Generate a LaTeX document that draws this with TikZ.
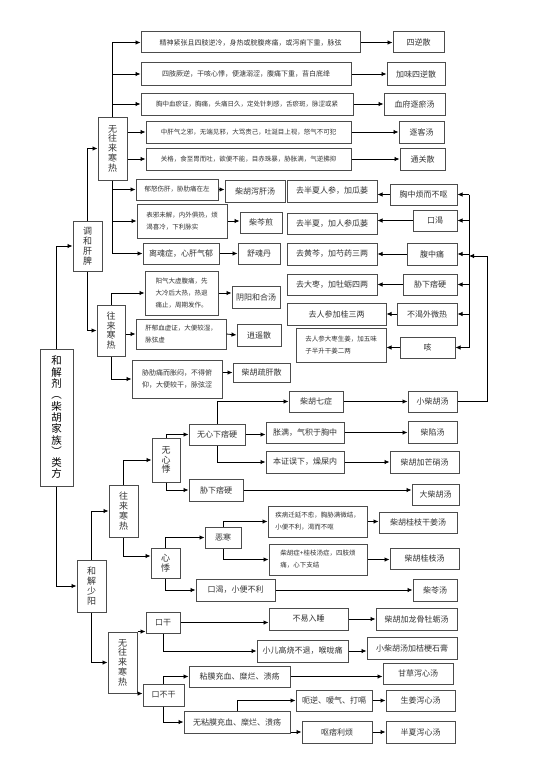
\documentclass[tikz,border=0pt]{standalone}
\usepackage{fontspec}
\setmainfont{Noto Sans CJK SC}
\usetikzlibrary{arrows.meta}
\tikzset{
  bx/.style={draw=black!70, line width=1pt, fill=white, inner sep=1pt, text=black!80, align=center},
  ar/.style={-{Latex[length=5pt,width=4.5pt]}, line width=0.8pt},
  fs/.style={font=\fontsize{6.5}{12}\selectfont},
  fa/.style={font=\fontsize{7}{12}\selectfont},
  fb/.style={font=\fontsize{8}{12}\selectfont},
  vt/.style={font=\fontsize{9}{9.8}\selectfont},
  vm/.style={font=\fontsize{10.5}{11.3}\selectfont, text=black},
}
% box from its corners (x1,y1) (x2,y2), in pixels of the page
\newcommand{\bx}[7][]{\node[bx, minimum width={(#5-#3)*1pt}, minimum height={(#6-#4)*1pt}, #1] (#2) at ({(#3+#5)/2},{(#4+#6)/2}) {#7};}

\begin{document}
\begin{tikzpicture}[x=1pt, y=-1pt]
  \useasboundingbox (0,0) rectangle (533,784);
  % ------------------------------------------------------------ root
  \bx[vm]{M}{40}{349}{73}{486}{和\\解\\剂\\︵\\柴\\胡\\家\\族\\︶\\类\\方}
  \bx[vt]{T}{73}{221}{102}{271}{调\\和\\肝\\脾}
  \bx[vt]{H}{77}{560}{106}{612}{和\\解\\少\\阳}
  \draw[ar] (M.north) |- (T.west);
  \draw[ar] (M.south) |- (H.west);
  % ------------------------------------------------------------ 调和肝脾, no alternating chills
  \bx[vt]{A}{98}{117}{127}{180}{无\\往\\来\\寒\\热}
  \bx[fa]{r1}{141}{32}{360}{53}{精神紧张且四肢逆冷，身热或脘腹疼痛，或泻痢下重，脉弦}
  \bx[fa]{r2}{141}{63}{351}{85}{四肢厥逆，干咳心悸，便溏溺涩，腹痛下重，苔白底绛}
  \bx[fs]{r3}{141}{93}{353}{115}{胸中血瘀证，胸痛，头痛日久，定处针刺感，舌瘀斑，脉涩或紧}
  \bx[fs]{r4}{146}{121}{351}{143}{中肝气之邪，无端见邪，大骂责己，吐涎目上视，怒气不可犯}
  \bx[fs]{r5}{146}{148}{351}{170}{关格，食至胃而吐，欲便不能，目赤珠暴，胁胀满，气逆拂抑}
  \bx[fb]{s1}{393}{32}{444}{53}{四逆散}
  \bx[fb]{s2}{387}{63}{445}{85}{加味四逆散}
  \bx[fb]{s3}{384}{93}{445}{115}{血府逐瘀汤}
  \bx[fb]{s4}{399}{121}{444}{143}{逐客汤}
  \bx[fb]{s5}{400}{148}{445}{170}{通关散}
  \bx[fs]{Y1}{136}{179}{218}{200}{郁怒伤肝，胁肋痛在左}
  \bx[fs, align=left]{Y2}{137}{204}{227}{238}{表邪未解，内外俱热，烦\\渴喜冷，下利脉实}
  \bx[fb]{Y3}{143}{243}{219}{264}{离魂症，心肝气郁}
  \bx[fb]{P1}{225}{180}{285}{202}{柴胡泻肝汤}
  \bx[fb]{P2}{240}{212}{282}{233}{柴芩煎}
  \bx[fb]{P3}{238}{243}{280}{264}{舒魂丹}
  \draw[ar] (T.north) |- (A.west);
  \foreach \r in {r1,r2,r3} \draw[ar] (A.north) |- (\r.west);
  \foreach \r in {r4,r5} \draw[ar] (A.east |- \r.west) -- (\r.west);
  \foreach \r/\s in {r1/s1,r2/s2,r3/s3,r4/s4,r5/s5} \draw[ar] (\r.east) -- (\r.east -| \s.west);
  \foreach \r in {Y1,Y2,Y3} \draw[ar] (A.south) |- (\r.west);
  \foreach \r/\s in {Y1/P1,Y2/P2,Y3/P3} \draw[ar] (\r.east) -- (\r.east -| \s.west);
  % ------------------------------------------------------------ 调和肝脾, alternating chills
  \bx[vt]{W1}{97}{305}{125}{356}{往\\来\\寒\\热}
  \bx[fs, align=left]{Y4}{145}{271}{218}{315}{阳气大虚腹痛，先\\大冷后大热，热退\\痛止，周期发作。}
  \bx[fs, align=left]{Y5}{136}{319}{226}{349}{肝郁血虚证，大便较湿，\\脉弦虚}
  \bx[fa, align=left]{Y6}{132}{360}{222}{398}{胁肋痛而胀闷，不得俯\\仰，大便较干，脉弦涩}
  \bx[fb]{P4}{232}{286}{280}{308}{阴阳和合汤}
  \bx[fb]{P5}{237}{324}{281}{346}{逍遥散}
  \bx[fb]{P6}{233}{363}{290}{382}{柴胡疏肝散}
  \draw[ar] (T.south) |- (W1.west);
  \draw[ar] (W1.north) |- (Y4.west);
  \draw[ar] (W1.east |- Y5.west) -- (Y5.west);
  \draw[ar] (W1.south) |- (Y6.west);
  \draw[ar] (Y4.east) -- (Y4.east -| P4.west);
  \draw[ar] (Y5.east) -- (P5.west);
  \draw[ar] (P6.west -| Y6.east) -- (P6.west);
  % ------------------------------------------------------------ 小柴胡汤 changes
  \bx[fb]{M1}{287}{180}{377}{202}{去半夏人参，加瓜蒌}
  \bx[fb]{M2}{287}{213}{377}{234}{去半夏，加人参瓜蒌}
  \bx[fb]{M3}{287}{243}{377}{265}{去黄芩，加芍药三两}
  \bx[fb]{M4}{287}{274}{377}{295}{去大枣，加牡蛎四两}
  \bx[fb]{M5}{287}{303}{386}{325}{去人参加桂三两}
  \bx[fs, align=left]{M6}{296}{328}{386}{362}{去人参大枣生姜，加五味\\子半升干姜二两}
  \bx[fb]{C1}{390}{184}{457}{205}{胸中烦而不呕}
  \bx[fb]{C2}{413}{210}{457}{231}{口渴}
  \bx[fb]{C3}{407}{243}{457}{265}{腹中痛}
  \bx[fb]{C4}{403}{274}{457}{295}{胁下痞硬}
  \bx[fb]{C5}{397}{303}{457}{325}{不渴外微热}
  \bx[fb]{C6}{400}{337}{455}{358}{咳}
  \coordinate (rt) at (469,0);
  \draw[line width=0.8pt] (C1.east -| rt) -- (C6.east -| rt);
  \foreach \c/\m in {C1/M1,C2/M2,C3/M3,C4/M4,C5/M5,C6/M6} {
    \draw[ar] (\c.east -| rt) -- (\c.east);
    \draw[ar] (\c.west) -- (\c.west -| \m.east);
  }
  % ------------------------------------------------------------ 和解少阳, alternating chills
  \bx[vt]{W2}{109}{485}{138}{537}{往\\来\\寒\\热}
  \bx[vt]{WX}{152}{438}{180}{482}{无\\心\\悸}
  \bx[vt]{XJ}{151}{548}{180}{578}{心\\悸}
  \bx[fb]{WN}{189}{424}{245}{445}{无心下痞硬}
  \bx[fb]{XP}{189}{479}{243}{501}{胁下痞硬}
  \bx[fb]{Q7}{289}{391}{343}{412}{柴胡七症}
  \bx[fb]{ZM}{266}{422}{344}{443}{胀满，气积于胸中}
  \bx[fb]{BZ}{266}{451}{344}{473}{本证误下，燥屎内}
  \bx[fb]{XC}{408}{391}{457}{412}{小柴胡汤}
  \bx[fb]{CX}{408}{421}{457}{443}{柴陷汤}
  \bx[fb]{MX}{390}{451}{459}{473}{柴胡加芒硝汤}
  \bx[fb]{DC}{412}{484}{459}{505}{大柴胡汤}
  \bx[fb]{EH}{205}{527}{241}{548}{恶寒}
  \bx[fs, align=left]{JB}{268}{506}{367}{537}{疾病迁延不愈，胸胁满微结，\\小便不利，渴而不呕}
  \bx[fs, align=left]{GZ}{269}{544}{367}{575}{柴胡症+桂枝汤症，四肢烦\\痛，心下支结}
  \bx[fb]{GJ}{379}{512}{457}{533}{柴胡桂枝干姜汤}
  \bx[fb]{GT}{390}{548}{459}{569}{柴胡桂枝汤}
  \bx[fb]{KK}{196}{579}{275}{601}{口渴，小便不利}
  \bx[fb]{CL}{413}{579}{457}{601}{柴苓汤}
  \draw[ar] (H.north) |- (W2.west);
  \draw[ar] (W2.north) |- (WX.west);
  \draw[ar] (W2.south) |- ([yshift=7pt]XJ.west);
  \draw[ar] (WX.north) |- (WN.west);
  \draw[ar] (WX.south) |- (XP.west);
  \draw[ar] (XP.east) -- (XP.east -| DC.west);
  \draw[ar] (WN.north) |- (Q7.west);
  \draw[ar] (WN.east) -- (WN.east -| ZM.west);
  \draw[ar] (WN.south) |- (BZ.west);
  \draw[ar] (Q7.east) -- (XC.west);
  \draw[ar] (ZM.east) -- (ZM.east -| CX.west);
  \draw[ar] (BZ.east) -- (MX.west);
  \coordinate (jn) at (469,256);
  \coordinate (jr) at (487,256);
  \draw[ar] (XC.east) -| (jr) -- (jn);
  \draw[ar] (XJ.north) |- (EH.west);
  \draw[ar] (XJ.south) |- (KK.west);
  \draw[ar] (EH.north) |- (JB.west);
  \draw[ar] (EH.south) |- (GZ.west);
  \draw[ar] (JB.east) -- (JB.east -| GJ.west);
  \draw[ar] (GZ.east) -- (GZ.east -| GT.west);
  \draw[ar] (KK.east) -- (CL.west);
  % ------------------------------------------------------------ 和解少阳, no alternating chills
  \bx[vt]{N2}{108}{632}{137}{693}{无\\往\\来\\寒\\热}
  \bx[fb]{KG}{146}{612}{180}{633}{口干}
  \bx[fb]{KB}{143}{684}{184}{706}{口不干}
  \bx[fb]{BY}{269}{608}{348}{630}{不易入睡}
  \bx[fb]{XE}{257}{640}{348}{662}{小儿高烧不退，喉咙痛}
  \bx[fb]{NM}{189}{666}{290}{687}{粘膜充血、糜烂、溃疡}
  \bx[fb]{WM}{184}{711}{290}{733}{无粘膜充血、糜烂、溃疡}
  \bx[fb]{EN}{296}{690}{372}{711}{呃逆、嗳气、打嗝}
  \bx[fb]{OP}{302}{721}{372}{743}{呕痞利烦}
  \bx[fb]{LG}{376}{608}{457}{630}{柴胡加龙骨牡蛎汤}
  \bx[fb]{JG}{367}{637}{457}{659}{小柴胡汤加桔梗石膏}
  \bx[fb]{GC}{383}{663}{453}{684}{甘草泻心汤}
  \bx[fb]{SJ}{386}{690}{455}{711}{生姜泻心汤}
  \bx[fb]{BX}{386}{721}{455}{743}{半夏泻心汤}
  \draw[ar] (H.south) |- (N2.west);
  \draw[ar] (N2.north east) -- (N2.north east -| KG.west);
  \draw[ar] (N2.south east) -- (N2.south east -| KB.west);
  \draw[ar] (KG.east) -- (KG.east -| BY.west);
  \draw[ar] (KG.south) |- (XE.west);
  \draw[ar] (KB.north) |- (NM.west);
  \draw[ar] (KB.south) |- (WM.west);
  \draw[ar] (WM.north) |- (EN.west);
  \draw[ar] (OP.west -| WM.east) -- (OP.west);
  \draw[ar] (BY.east) -- (LG.west);
  \draw[ar] (XE.east) -- (XE.east -| JG.west);
  \draw[ar] (NM.east) -- (NM.east -| GC.west);
  \draw[ar] (EN.east) -- (SJ.west);
  \draw[ar] (OP.east) -- (BX.west);
\end{tikzpicture}
\end{document}
